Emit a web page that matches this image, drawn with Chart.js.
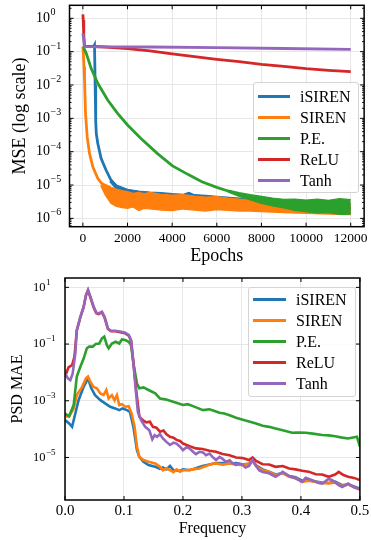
<!DOCTYPE html>
<html>
<head>
<meta charset="utf-8">
<script src="https://cdn.jsdelivr.net/npm/chart.js@4.4.1/dist/chart.umd.min.js"></script>
<style>
  body { margin: 0; background: #fff; width: 371px; height: 540px; position: relative; overflow: hidden; font-family: 'Liberation Serif', serif; }
  canvas { position: absolute; left: 0; }
  #lossChart { top: 0; }
  #psdChart { top: 270px; }
  .legend { position: absolute; background: rgba(255,255,255,0.85); border: 1px solid #d4d4d4; border-radius: 3px; box-sizing: border-box; font-size: 16px; color: #000; }
  .legend .row { display: flex; align-items: center; height: 21px; }
  .legend .swatch { display: inline-block; margin: 0 10px 0 4px; height: 3px; }
  #lossLegend { left: 253px; top: 82px; width: 106px; height: 111px; padding-top: 3px; }
  #lossLegend .swatch { width: 32px; }
  #psdLegend { left: 248px; top: 287px; width: 108px; height: 110px; padding-top: 1px; }
  #psdLegend .swatch { width: 33px; }
</style>
</head>
<body>
<canvas id="lossChart" width="371" height="268"></canvas>
<canvas id="psdChart" width="371" height="270"></canvas>
<div class="legend" id="lossLegend"></div>
<div class="legend" id="psdLegend"></div>
<script>
// ---------- top panel: training MSE, values as log10 ----------
const epochTicks = [0, 2000, 4000, 6000, 8000, 10000, 12000];
const mseDecades = [1e-6, 1e-5, 1e-4, 1e-3, 1e-2, 1e-1, 1];

const isirenEpochs = [0, 480, 520, 550, 575, 600, 666, 814, 1036, 1258, 1554, 2000, 2590, 4000, 6000, 8000, 10000, 12000];
const isirenLogMse = [-0.85, -0.85, -0.8, -2.0, -3.1, -3.45, -3.75, -4.2, -4.55, -4.85, -5.07, -5.2, -5.27, -5.36, -5.46, -5.56, -5.64, -5.7];
const isirenNoiseEpochs = [1200, 1500, 2000, 2500, 3000, 3500, 4000, 4500, 4750, 5000, 5500, 6000, 7000, 8000, 9000, 10000, 11000, 12000];
const isirenNoiseHigh = [-4.8, -5.0, -5.13, -5.18, -5.21, -5.23, -5.26, -5.28, -5.22, -5.29, -5.31, -5.34, -5.39, -5.43, -5.48, -5.51, -5.53, -5.56];
const isirenNoiseLow = [-4.9, -5.12, -5.3, -5.4, -5.45, -5.5, -5.55, -5.57, -5.58, -5.6, -5.64, -5.66, -5.69, -5.72, -5.76, -5.78, -5.8, -5.83];

const sirenEpochs = [0, 25, 50, 74, 118, 192, 296, 444, 666, 888, 1110, 1554, 2000, 3000, 4000, 6000, 8000, 10000, 12000];
const sirenLogMse = [-0.85, -1.1, -1.45, -1.85, -2.85, -3.55, -4.05, -4.45, -4.8, -5.0, -5.2, -5.38, -5.45, -5.48, -5.52, -5.56, -5.6, -5.68, -5.75];
const sirenNoiseEpochs = [800, 1000, 1250, 1500, 1750, 2000, 2250, 2500, 2750, 3000, 3500, 4000, 4500, 5000, 5500, 6000, 6500, 7000, 7500, 8000, 9000, 10000, 11000, 12000];
const sirenNoiseHigh = [-4.92, -4.98, -5.06, -5.12, -5.17, -5.2, -5.25, -5.22, -5.26, -5.22, -5.28, -5.3, -5.29, -5.33, -5.36, -5.35, -5.39, -5.42, -5.44, -5.47, -5.52, -5.57, -5.6, -5.64];
const sirenNoiseLow = [-5.02, -5.3, -5.55, -5.64, -5.68, -5.7, -5.66, -5.77, -5.7, -5.72, -5.75, -5.77, -5.72, -5.75, -5.78, -5.74, -5.76, -5.78, -5.78, -5.8, -5.83, -5.85, -5.87, -5.89];

const peEpochs = [0, 30, 150, 370, 666, 1110, 1554, 2000, 2590, 3330, 4000, 4700, 5330, 6000, 6500, 7000, 7500, 8000, 8500, 9000, 9500, 10000, 10500, 11000, 11500, 12000];
const peLogMse = [-0.85, -0.87, -1.05, -1.5, -1.95, -2.45, -2.85, -3.2, -3.6, -4.05, -4.42, -4.68, -4.9, -5.07, -5.18, -5.28, -5.37, -5.45, -5.52, -5.57, -5.61, -5.64, -5.66, -5.68, -5.69, -5.7];
const peNoiseEpochs = [6500, 7000, 7500, 8000, 8500, 9000, 9500, 10000, 10500, 11000, 11500, 12000];
const peNoiseHigh = [-5.15, -5.23, -5.29, -5.34, -5.39, -5.43, -5.42, -5.45, -5.42, -5.46, -5.41, -5.44];
const peNoiseLow = [-5.21, -5.34, -5.45, -5.55, -5.63, -5.69, -5.76, -5.8, -5.84, -5.83, -5.88, -5.87];

const reluEpochs = [0, 15, 40, 80, 500, 1000, 2000, 3000, 4000, 5000, 6000, 7000, 8000, 9000, 10000, 11000, 12000];
const reluLogMse = [0.12, -0.05, -0.52, -0.84, -0.845, -0.86, -0.91, -0.98, -1.07, -1.15, -1.23, -1.3, -1.38, -1.44, -1.51, -1.56, -1.6];

const tanhEpochs = [0, 30, 70, 3000, 6000, 9000, 12000];
const tanhLogMse = [-0.45, -0.6, -0.85, -0.86, -0.88, -0.905, -0.93];

// ---------- bottom panel: PSD MAE vs frequency, log10 values ----------
const freqTicks = [0, 0.1, 0.2, 0.3, 0.4, 0.5];
const psdDecades = [1e-5, 1e-3, 1e-1, 1e1];

const isirenFreq = [0, 0.007, 0.012, 0.0175, 0.023, 0.0316, 0.039, 0.0446, 0.051, 0.06,
  0.068, 0.0767, 0.085, 0.092, 0.0976, 0.105, 0.11, 0.116, 0.122, 0.126,
  0.133, 0.1416, 0.153, 0.161, 0.166, 0.172, 0.178, 0.184, 0.195, 0.2,
  0.211, 0.222, 0.233, 0.245, 0.256, 0.267, 0.279, 0.29, 0.3, 0.312,
  0.318, 0.324, 0.335, 0.346, 0.357, 0.369, 0.38, 0.391, 0.402, 0.413,
  0.425, 0.436, 0.447, 0.458, 0.47, 0.48, 0.49, 0.5];
const isirenLogPsd = [-3.68, -3.8, -3.92, -3.45, -2.98, -2.51, -2.21, -2.56, -2.8, -2.98,
  -3.09, -3.21, -3.27, -3.33, -3.27, -3.33, -3.39, -3.92, -4.74, -4.98,
  -5.15, -5.27, -5.33, -5.4, -5.35, -5.42, -5.3, -5.45, -5.47, -5.42,
  -5.45, -5.38, -5.3, -5.25, -5.2, -5.2, -5.22, -5.2, -5.25, -5.22,
  -5.12, -5.28, -5.42, -5.5, -5.6, -5.55, -5.65, -5.7, -5.82, -5.8,
  -5.85, -5.88, -5.9, -5.85, -5.98, -5.95, -6.02, -6.1];

const sirenFreq = [0, 0.007, 0.0147, 0.02, 0.029, 0.0355, 0.039, 0.043, 0.0485, 0.054,
  0.06, 0.0654, 0.07, 0.074, 0.0795, 0.084, 0.088, 0.092, 0.0965, 0.102,
  0.108, 0.113, 0.118, 0.122, 0.126, 0.133, 0.1416, 0.153, 0.161, 0.166,
  0.172, 0.178, 0.184, 0.189, 0.195, 0.2, 0.206, 0.217, 0.228, 0.239,
  0.25, 0.256, 0.267, 0.279, 0.29, 0.3, 0.312, 0.318, 0.324, 0.335,
  0.346, 0.357, 0.369, 0.38, 0.391, 0.402, 0.413, 0.425, 0.436, 0.447,
  0.458, 0.47, 0.48, 0.49, 0.5];
const sirenLogPsd = [-3.54, -3.56, -3.27, -2.8, -2.51, -2.21, -2.15, -2.33, -2.51, -2.56,
  -2.74, -2.8, -2.62, -2.92, -2.8, -2.98, -2.8, -3.15, -3.12, -3.21,
  -3.19, -3.45, -3.92, -4.62, -4.98, -5.09, -5.15, -5.21, -5.33, -5.45,
  -5.38, -5.45, -5.52, -5.42, -5.5, -5.45, -5.45, -5.42, -5.39, -5.3,
  -5.22, -5.21, -5.25, -5.21, -5.25, -5.27, -5.21, -5.12, -5.3, -5.45,
  -5.5, -5.62, -5.55, -5.68, -5.72, -5.86, -5.82, -5.86, -5.9, -5.92,
  -5.88, -6.01, -5.95, -6.05, -6.13];

const peFreq = [0, 0.007, 0.0147, 0.02, 0.026, 0.0316, 0.037, 0.041, 0.047, 0.052,
  0.058, 0.0626, 0.0666, 0.071, 0.074, 0.0795, 0.086, 0.092, 0.0965, 0.102,
  0.108, 0.112, 0.116, 0.122, 0.126, 0.133, 0.1416, 0.153, 0.161, 0.17,
  0.178, 0.19, 0.2, 0.208, 0.217, 0.234, 0.245, 0.262, 0.27, 0.279,
  0.29, 0.3, 0.312, 0.324, 0.335, 0.346, 0.357, 0.369, 0.385, 0.396,
  0.408, 0.42, 0.436, 0.447, 0.458, 0.47, 0.48, 0.495, 0.5];
const peLogPsd = [-3.45, -3.54, -3.15, -2.15, -1.8, -1.51, -1.15, -1.09, -1.09, -1.0,
  -0.98, -0.8, -0.74, -1.04, -1.15, -0.98, -0.92, -0.98, -0.84, -0.86,
  -0.92, -1.04, -1.68, -2.39, -2.56, -2.53, -2.62, -2.74, -2.92, -2.95,
  -3.0, -3.08, -3.15, -3.12, -3.19, -3.33, -3.3, -3.42, -3.45, -3.51,
  -3.6, -3.66, -3.73, -3.8, -3.88, -3.92, -3.98, -4.04, -4.13, -4.12,
  -4.13, -4.16, -4.21, -4.22, -4.25, -4.3, -4.33, -4.27, -4.62];

const reluFreq = [0, 0.006, 0.012, 0.016, 0.02, 0.026, 0.0316, 0.0355, 0.039, 0.043,
  0.0485, 0.053, 0.057, 0.0626, 0.067, 0.0728, 0.078, 0.085, 0.0936, 0.102,
  0.108, 0.112, 0.116, 0.12, 0.126, 0.133, 0.138, 0.144, 0.149, 0.155,
  0.161, 0.167, 0.172, 0.178, 0.184, 0.189, 0.195, 0.2, 0.211, 0.222,
  0.233, 0.245, 0.256, 0.267, 0.279, 0.29, 0.301, 0.312, 0.318, 0.324,
  0.335, 0.346, 0.357, 0.369, 0.38, 0.391, 0.402, 0.413, 0.425, 0.436,
  0.447, 0.458, 0.464, 0.472, 0.48, 0.49, 0.5];
const reluLogPsd = [-2.15, -1.82, -1.74, -1.45, -0.52, -0.06, 0.3, 0.71, 0.89, 0.65,
  0.3, 0.09, 0.06, 0.12, -0.06, -0.47, -0.55, -0.55, -0.58, -0.62,
  -0.7, -0.88, -1.65, -2.5, -3.56, -3.7, -3.76, -3.74, -3.92, -3.95,
  -4.09, -4.05, -4.18, -4.27, -4.3, -4.38, -4.42, -4.51, -4.6, -4.68,
  -4.7, -4.76, -4.8, -4.88, -4.92, -5.0, -5.02, -5.09, -5.0, -5.12,
  -5.24, -5.25, -5.33, -5.3, -5.39, -5.42, -5.47, -5.5, -5.59, -5.6,
  -5.68, -5.6, -5.51, -5.62, -5.68, -5.72, -5.8];

const tanhFreq = [0, 0.005, 0.009, 0.013, 0.0175, 0.02, 0.026, 0.0316, 0.0355, 0.039,
  0.043, 0.0485, 0.053, 0.057, 0.0626, 0.067, 0.0728, 0.078, 0.085, 0.0936,
  0.102, 0.108, 0.112, 0.116, 0.12, 0.1235, 0.129, 0.136, 0.143, 0.148,
  0.152, 0.156, 0.161, 0.166, 0.172, 0.178, 0.184, 0.189, 0.195, 0.2,
  0.206, 0.211, 0.217, 0.222, 0.228, 0.234, 0.239, 0.245, 0.25, 0.256,
  0.262, 0.267, 0.273, 0.279, 0.284, 0.29, 0.295, 0.301, 0.306, 0.312,
  0.318, 0.324, 0.329, 0.335, 0.346, 0.357, 0.363, 0.369, 0.38, 0.391,
  0.402, 0.408, 0.419, 0.43, 0.436, 0.447, 0.453, 0.464, 0.47, 0.48,
  0.49, 0.5];
const tanhLogPsd = [-2.04, -2.21, -2.27, -2.04, -1.33, -0.51, -0.04, 0.32, 0.73, 0.91,
  0.67, 0.32, 0.11, 0.08, 0.14, -0.04, -0.45, -0.53, -0.53, -0.56,
  -0.6, -0.68, -0.86, -1.68, -2.62, -3.39, -3.68, -3.92, -4.04, -4.36,
  -4.21, -4.27, -4.18, -4.33, -4.45, -4.56, -4.48, -4.51, -4.62, -4.74,
  -4.64, -4.68, -4.8, -4.88, -4.8, -4.82, -4.92, -4.86, -4.98, -5.09,
  -4.98, -5.05, -5.15, -5.1, -5.2, -5.27, -5.21, -5.26, -5.35, -5.3,
  -5.09, -5.3, -5.45, -5.51, -5.56, -5.68, -5.6, -5.51, -5.66, -5.74,
  -5.86, -5.72, -5.8, -5.9, -5.92, -5.76, -5.8, -5.98, -6.04, -5.92,
  -6.05, -6.12];

const COLORS = { isiren: '#1f77b4', siren: '#ff7f0e', pe: '#2ca02c', relu: '#d62728', tanh: '#9467bd' };
const FONT = "'Liberation Serif', 'Times New Roman', serif";

Chart.defaults.font.family = FONT;
Chart.defaults.color = '#000';

// read values are log10 -> real values for the log scale
const pts = (xs, logs) => xs.map((x, i) => ({ x: x, y: Math.pow(10, logs[i]) }));

function line(label, color, xs, logs, order, width) {
  return { label, data: pts(xs, logs), borderColor: color, backgroundColor: color, borderWidth: width,
    pointRadius: 0, tension: 0, fill: false, order, clip: 0 };
}

// noisy stretch: filled between an upper and a lower envelope
function noise(color, xs, hi, lo, order) {
  return [
    { band: true, data: pts(xs, hi), borderColor: color, backgroundColor: color, borderWidth: 1.2, pointRadius: 0, tension: 0, fill: '+1', order, clip: 0 },
    { band: true, data: pts(xs, lo), borderColor: color, backgroundColor: color, borderWidth: 1.2, pointRadius: 0, tension: 0, fill: false, order, clip: 0 }
  ];
}

// inward ticks, black frame and 10^n labels with a raised exponent
const frame = {
  id: 'frame',
  afterDatasetsDraw(chart, args, opts) {
    const { ctx, chartArea: a } = chart;
    const x = chart.scales.x, y = chart.scales.y;
    ctx.save();
    ctx.strokeStyle = '#000';
    ctx.lineWidth = 1;
    ctx.beginPath();
    x.ticks.forEach(t => {
      const p = x.getPixelForValue(t.value);
      ctx.moveTo(p, a.bottom); ctx.lineTo(p, a.bottom - 4);
      ctx.moveTo(p, a.top); ctx.lineTo(p, a.top + 4);
    });
    y.ticks.forEach(t => {
      const p = y.getPixelForValue(t.value);
      ctx.moveTo(a.left, p); ctx.lineTo(a.left + 4, p);
      ctx.moveTo(a.right, p); ctx.lineTo(a.right - 4, p);
    });
    (opts.minorY || []).forEach(v => {
      const p = y.getPixelForValue(v);
      if (p < a.top || p > a.bottom) return;
      ctx.moveTo(a.left, p); ctx.lineTo(a.left + 2, p);
      ctx.moveTo(a.right, p); ctx.lineTo(a.right - 2, p);
    });
    ctx.stroke();
    ctx.lineWidth = 1.5;
    ctx.strokeRect(a.left, a.top, a.right - a.left, a.bottom - a.top);

    const lab = opts.yLabels;
    if (lab) {
      ctx.fillStyle = '#000';
      ctx.textBaseline = 'middle';
      ctx.textAlign = 'left';
      y.ticks.forEach(t => {
        const p = y.getPixelForValue(t.value);
        const e = Math.round(Math.log10(t.value));
        ctx.font = lab.size + 'px ' + FONT;
        ctx.fillText('10', lab.x, p);
        const w = ctx.measureText('10').width;
        ctx.font = lab.expSize + 'px ' + FONT;
        ctx.fillText(String(e).replace('-', '\u2212'), lab.x + w + 0.5, p - lab.size * 0.4);
      });
    }
    ctx.restore();
  }
};

const minorMse = [];
for (let n = -7; n <= 0; n++) for (let k = 2; k <= 9; k++) minorMse.push(k * Math.pow(10, n));

const gridStyle = { color: '#e4e4e4', lineWidth: 0.9, drawTicks: false };

const lossChart = new Chart(document.getElementById('lossChart'), {
  type: 'line',
  data: {
    datasets: [
      line('iSIREN', COLORS.isiren, isirenEpochs, isirenLogMse, 5, 2.8),
      ...noise(COLORS.isiren, isirenNoiseEpochs, isirenNoiseHigh, isirenNoiseLow, 5),
      line('SIREN', COLORS.siren, sirenEpochs, sirenLogMse, 4, 2.8),
      ...noise(COLORS.siren, sirenNoiseEpochs, sirenNoiseHigh, sirenNoiseLow, 4),
      line('P.E.', COLORS.pe, peEpochs, peLogMse, 3, 2.8),
      ...noise(COLORS.pe, peNoiseEpochs, peNoiseHigh, peNoiseLow, 3),
      line('ReLU', COLORS.relu, reluEpochs, reluLogMse, 2, 2.8),
      line('Tanh', COLORS.tanh, tanhEpochs, tanhLogMse, 1, 2.8)
    ]
  },
  options: {
    responsive: false,
    animation: false,
    events: [],
    layout: { padding: { left: 0, right: 4.3, top: 5.3, bottom: 0 } },
    plugins: {
      legend: { display: false }, tooltip: { enabled: false },
      frame: { minorY: minorMse, yLabels: { x: 36, size: 14, expSize: 10 } }
    },
    scales: {
      x: {
        type: 'linear', min: -600, max: 12600,
        afterBuildTicks: s => { s.ticks = epochTicks.map(v => ({ value: v })); },
        afterFit: s => { s.height = 41.3; },
        ticks: { callback: v => String(v), font: { size: 13.5 }, padding: 3.2, maxRotation: 0, autoSkip: false },
        grid: gridStyle,
        border: { display: false },
        title: { display: true, text: 'Epochs', font: { size: 18 }, padding: { top: 0, bottom: 0.5 } }
      },
      y: {
        type: 'logarithmic', min: Math.pow(10, -6.25), max: Math.pow(10, 0.39),
        afterBuildTicks: s => { s.ticks = mseDecades.map(v => ({ value: v })); },
        afterFit: s => { s.width = 69.5; },
        ticks: { display: false },
        grid: gridStyle,
        border: { display: false },
        title: { display: true, text: 'MSE (log scale)', font: { size: 18 }, padding: { top: 9, bottom: 0 } }
      }
    }
  },
  plugins: [frame]
});

const psdChart = new Chart(document.getElementById('psdChart'), {
  type: 'line',
  data: {
    datasets: [
      line('iSIREN', COLORS.isiren, isirenFreq, isirenLogPsd, 5, 2.6),
      line('SIREN', COLORS.siren, sirenFreq, sirenLogPsd, 4, 2.6),
      line('P.E.', COLORS.pe, peFreq, peLogPsd, 3, 2.6),
      line('ReLU', COLORS.relu, reluFreq, reluLogPsd, 2, 2.6),
      line('Tanh', COLORS.tanh, tanhFreq, tanhLogPsd, 1, 2.6)
    ]
  },
  options: {
    responsive: false,
    animation: false,
    events: [],
    layout: { padding: { left: 0, right: 10.5, top: 8, bottom: 0 } },
    plugins: {
      legend: { display: false }, tooltip: { enabled: false },
      frame: { yLabels: { x: 33, size: 12.5, expSize: 9 } }
    },
    scales: {
      x: {
        type: 'linear', min: 0, max: 0.5,
        afterBuildTicks: s => { s.ticks = freqTicks.map(v => ({ value: v })); },
        afterFit: s => { s.height = 40; },
        ticks: { callback: v => v.toFixed(1), font: { size: 15 }, padding: 1.7, maxRotation: 0, autoSkip: false },
        grid: gridStyle,
        border: { display: false },
        title: { display: true, text: 'Frequency', font: { size: 16 }, padding: { top: 0, bottom: 1.4 } }
      },
      y: {
        type: 'logarithmic', min: Math.pow(10, -6.5), max: Math.pow(10, 1.33),
        afterBuildTicks: s => { s.ticks = psdDecades.map(v => ({ value: v })); },
        afterFit: s => { s.width = 65; },
        ticks: { display: false },
        grid: gridStyle,
        border: { display: false },
        title: { display: true, text: 'PSD MAE', font: { size: 16 }, padding: { top: 7.7, bottom: 0 } }
      }
    }
  },
  plugins: [frame]
});

// legends built from the chart's own datasets
function buildLegend(chart, el) {
  chart.data.datasets.filter(d => !d.band).forEach(d => {
    const row = document.createElement('div');
    row.className = 'row';
    const sw = document.createElement('span');
    sw.className = 'swatch';
    sw.style.background = d.borderColor;
    const txt = document.createElement('span');
    txt.textContent = d.label;
    row.appendChild(sw);
    row.appendChild(txt);
    el.appendChild(row);
  });
}
buildLegend(lossChart, document.getElementById('lossLegend'));
buildLegend(psdChart, document.getElementById('psdLegend'));
</script>
</body>
</html>
